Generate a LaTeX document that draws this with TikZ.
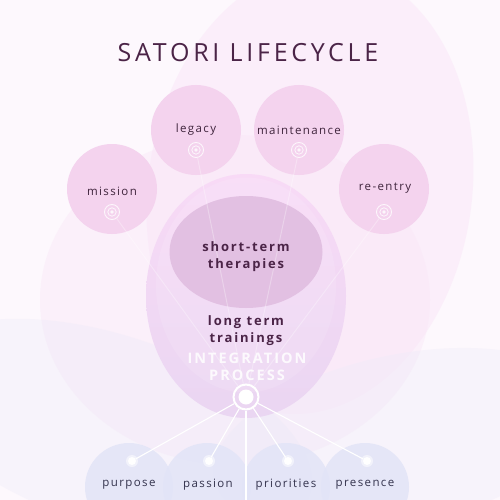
\documentclass[tikz,border=0pt]{standalone}
\usepackage{fontspec}
\setmainfont{Open Sans}
\newfontfamily\titlefont[LetterSpace=15]{Open Sans}
\newfontfamily\lblfont[LetterSpace=12]{Open Sans}
\newfontfamily\bfont[LetterSpace=14]{Open Sans}
\usetikzlibrary{shapes.geometric}
\definecolor{bgcol}{HTML}{FDF8FD}
\definecolor{pinkA}{HTML}{F9E4F7}
\definecolor{lavA}{HTML}{ECEAF8}
\definecolor{topfill}{HTML}{F4D3EE}
\definecolor{stfill}{HTML}{E2C0E2}
\definecolor{bigtop}{HTML}{F8DAF6}
\definecolor{bigbot}{HTML}{EAD6F2}
\definecolor{botfill}{HTML}{E2E4F7}
\definecolor{plum}{HTML}{4B2447}
\definecolor{plumtext}{HTML}{3F243C}
\definecolor{navy}{HTML}{34334D}
\tikzset{
  topcirc/.style={circle, fill=topfill, minimum size=90pt, inner sep=0pt},
  botcirc/.style={circle, fill=botfill, fill opacity=0.85, minimum size=88pt, inner sep=0pt},
  toplabel/.style={font=\lblfont\fontsize{11.5}{13}\selectfont, text=plumtext, inner sep=0pt},
  botlabel/.style={font=\lblfont\fontsize{11.5}{13}\selectfont, text=navy, inner sep=0pt},
  boldlabel/.style={font=\bfont\bfseries\fontsize{13}{17}\selectfont, text=plum, align=center, inner sep=0pt},
  target/.style={circle, draw=white, draw opacity=0.8, line width=0.9pt, minimum size=15pt, inner sep=0pt},
  faint/.style={draw=white, draw opacity=0.3, line width=1pt},
  spoke/.style={draw=white, line width=1.1pt},
  dotnode/.style={circle, fill=white, minimum size=8pt, inner sep=0pt},
}
\begin{document}
\begin{tikzpicture}[x=1pt,y=-1pt]
\useasboundingbox (0,0) rectangle (500,500);
\fill[bgcol] (0,0) rectangle (500,500);
% background shapes
\fill[pinkA, opacity=0.45] (310,190) ellipse [x radius=162, y radius=225, rotate=-8];
\fill[pinkA, opacity=0.4] (235,300) ellipse [x radius=195, y radius=165];
\fill[lavA, opacity=0.35] (110,430) ellipse [x radius=210, y radius=95, rotate=-18];
\fill[lavA, opacity=0.35] (400,440) ellipse [x radius=190, y radius=85, rotate=12];
% big integration ellipse
\node[ellipse, minimum width=200pt, minimum height=244pt, inner sep=0pt,
      top color=bigtop, bottom color=bigbot] (big) at (246,296) {};
\node[ellipse, fill=white, fill opacity=0.12, minimum width=180pt, minimum height=215pt, inner sep=0pt] (bigring) at (246,285) {};
% short-term ellipse
\node[ellipse, fill=stfill, minimum width=153pt, minimum height=112pt, inner sep=0pt] (st) at (246,252) {};
% top circles
\node[topcirc] (legacy) at (196,130) {};
\node[topcirc] (maint) at (299,130) {};
\node[topcirc] (mission) at (112,189) {};
\node[topcirc] (reentry) at (384,189) {};
% bottom circles
\node[botcirc] (purposeC) at (129,487) {};
\node[botcirc] (passionC) at (207,487) {};
\node[botcirc] (prioritiesC) at (286,487) {};
\node[botcirc] (presenceC) at (365,487) {};
% hub
\node[circle, draw=white, line width=2pt, minimum size=25pt, inner sep=0pt] (hub) at (246,397) {};
\fill[white] (hub.center) circle (7.5);
% icons
\node[target] (legacyI) at (196,150) {};
\node[target] (maintI) at (299,150) {};
\node[target] (missionI) at (112,212) {};
\node[target] (reentryI) at (384,212) {};
\foreach \n in {legacyI,maintI,missionI,reentryI}{
  \draw[white, draw opacity=0.8, line width=0.8pt] (\n.center) circle (4.2);
  \fill[white, opacity=0.8] (\n.center) circle (1.8);
}
% faint connectors
\draw[faint] (legacyI) -- (hub);
\draw[faint] (maintI) -- (hub);
\draw[faint] (missionI) -- (hub);
\draw[faint] (reentryI) -- (hub);
% dots
\node[dotnode] (purposeD) at (132,461) {};
\node[dotnode] (passionD) at (209,461) {};
\node[dotnode] (prioritiesD) at (288,461) {};
\node[dotnode] (presenceD) at (367,461) {};
\foreach \n in {purposeD,passionD,prioritiesD,presenceD}{
  \fill[white, opacity=0.5] (\n.center) circle (6);
}
\draw[spoke] (hub) -- (purposeD);
\draw[spoke] (hub) -- (passionD);
\draw[spoke] (hub) -- (prioritiesD);
\draw[spoke] (hub) -- (presenceD);
\coordinate (bottomend) at (246,500);
\draw[white, line width=2pt] (hub) -- (bottomend);
% texts
\node[font=\titlefont\fontsize{25}{28}\selectfont, text=plum, inner sep=0pt] (title) at (248,53) {SATORI LIFECYCLE};
\node[toplabel] (legacyL) at (196,130) {legacy};
\node[toplabel] (maintL) at (299,130) {maintenance};
\node[toplabel] (missionL) at (112,191) {mission};
\node[toplabel] (reentryL) at (385,188) {re-entry};
\node[boldlabel] (stL) at (246,257) {short-term\\therapies};
\node[boldlabel] (ltL) at (246,331) {long term\\trainings};
\node[font=\bfont\bfseries\fontsize{14.5}{17}\selectfont, text=white, text opacity=0.85, align=center, inner sep=0pt] (intL) at (247,367) {INTEGRATION\\PROCESS};
\node[botlabel] (purposeL) at (129,485) {purpose};
\node[botlabel] (passionL) at (208,485) {passion};
\node[botlabel] (prioritiesL) at (286,485) {priorities};
\node[botlabel] (presenceL) at (365,485) {presence};
\end{tikzpicture}
\end{document}
